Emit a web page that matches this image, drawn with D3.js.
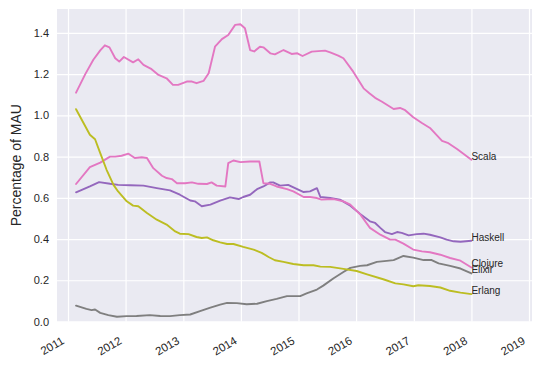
<!DOCTYPE html>
<html><head><meta charset="utf-8">
<script src="https://cdn.jsdelivr.net/npm/d3@7"></script>
<style>body{margin:0;background:#fff;} svg{display:block;}</style>
</head><body>
<script>
// ---- data (decimal years, percentage of MAU) ----
const scalaYears = [2011.14,2011.30,2011.44,2011.56,2011.64,2011.72,2011.82,2011.89,2011.97,2012.13,2012.22,2012.31,2012.45,2012.57,2012.71,2012.82,2012.91,2013.06,2013.15,2013.23,2013.35,2013.44,2013.55,2013.67,2013.78,2013.90,2013.99,2014.07,2014.16,2014.23,2014.33,2014.39,2014.51,2014.59,2014.74,2014.88,2014.98,2015.07,2015.23,2015.46,2015.55,2015.69,2015.78,2015.95,2016.13,2016.23,2016.33,2016.45,2016.65,2016.76,2016.85,2016.99,2017.14,2017.28,2017.49,2017.60,2017.75,2018.00];
const scalaValues = [1.11,1.20,1.27,1.315,1.34,1.33,1.277,1.261,1.283,1.257,1.272,1.245,1.224,1.196,1.18,1.148,1.148,1.164,1.164,1.156,1.167,1.204,1.333,1.37,1.39,1.439,1.442,1.423,1.317,1.31,1.333,1.33,1.301,1.296,1.317,1.298,1.301,1.288,1.309,1.314,1.306,1.29,1.277,1.212,1.131,1.107,1.085,1.066,1.031,1.036,1.025,0.991,0.963,0.939,0.876,0.865,0.837,0.785];

const clojureYears = [2011.14,2011.38,2011.56,2011.73,2011.82,2011.93,2012.05,2012.16,2012.28,2012.37,2012.48,2012.63,2012.71,2012.80,2012.89,2013.03,2013.15,2013.26,2013.41,2013.49,2013.58,2013.73,2013.78,2013.87,2013.99,2014.16,2014.32,2014.39,2014.51,2014.62,2014.80,2014.91,2015.09,2015.20,2015.32,2015.40,2015.61,2015.78,2015.90,2016.07,2016.24,2016.42,2016.59,2016.68,2016.82,2016.99,2017.14,2017.28,2017.46,2017.63,2017.81,2018.00];
const clojureValues = [0.667,0.749,0.771,0.80,0.80,0.804,0.814,0.793,0.797,0.793,0.744,0.707,0.696,0.691,0.671,0.671,0.675,0.668,0.667,0.675,0.659,0.655,0.768,0.781,0.773,0.776,0.776,0.671,0.668,0.655,0.642,0.631,0.604,0.604,0.599,0.591,0.594,0.583,0.567,0.52,0.454,0.421,0.397,0.397,0.378,0.349,0.34,0.336,0.324,0.308,0.295,0.262];

const haskellYears = [2011.14,2011.38,2011.54,2011.73,2011.87,2012.08,2012.31,2012.54,2012.77,2012.94,2013.12,2013.20,2013.32,2013.47,2013.64,2013.81,2013.96,2014.04,2014.16,2014.28,2014.39,2014.51,2014.56,2014.68,2014.82,2014.94,2015.09,2015.20,2015.32,2015.38,2015.55,2015.72,2015.90,2016.07,2016.24,2016.33,2016.42,2016.50,2016.62,2016.71,2016.79,2016.91,2017.05,2017.17,2017.28,2017.46,2017.57,2017.69,2017.81,2018.00];
const haskellValues = [0.627,0.655,0.676,0.668,0.663,0.661,0.659,0.647,0.636,0.615,0.587,0.583,0.559,0.567,0.586,0.602,0.594,0.604,0.615,0.642,0.655,0.675,0.675,0.659,0.663,0.647,0.628,0.631,0.647,0.604,0.599,0.591,0.562,0.522,0.486,0.478,0.454,0.434,0.424,0.434,0.43,0.418,0.424,0.426,0.421,0.408,0.397,0.389,0.387,0.392];

const erlangYears = [2011.14,2011.38,2011.47,2011.56,2011.67,2011.79,2011.87,2012.02,2012.13,2012.22,2012.37,2012.54,2012.71,2012.86,2012.94,2013.09,2013.23,2013.32,2013.41,2013.52,2013.64,2013.76,2013.87,2014.04,2014.22,2014.36,2014.48,2014.59,2014.74,2014.91,2015.09,2015.26,2015.38,2015.55,2015.78,2016.01,2016.19,2016.47,2016.68,2016.82,2016.99,2017.08,2017.28,2017.46,2017.63,2017.81,2018.00];
const erlangValues = [1.03,0.906,0.884,0.817,0.736,0.663,0.631,0.583,0.562,0.559,0.526,0.494,0.47,0.437,0.426,0.424,0.41,0.405,0.408,0.394,0.384,0.376,0.376,0.362,0.349,0.333,0.313,0.297,0.289,0.279,0.273,0.273,0.266,0.265,0.255,0.245,0.229,0.205,0.185,0.18,0.171,0.176,0.172,0.165,0.149,0.14,0.133];

const elixirYears = [2011.14,2011.32,2011.41,2011.47,2011.56,2011.70,2011.85,2012.02,2012.19,2012.42,2012.60,2012.77,2012.94,2013.12,2013.29,2013.47,2013.64,2013.76,2013.93,2014.10,2014.28,2014.45,2014.62,2014.80,2015.03,2015.14,2015.32,2015.43,2015.61,2015.78,2015.90,2016.07,2016.19,2016.36,2016.53,2016.65,2016.82,2016.99,2017.17,2017.31,2017.43,2017.63,2017.81,2018.00];
const elixirValues = [0.077,0.061,0.055,0.058,0.042,0.031,0.023,0.026,0.027,0.031,0.027,0.026,0.031,0.034,0.05,0.067,0.082,0.09,0.089,0.084,0.086,0.099,0.11,0.123,0.123,0.136,0.155,0.174,0.21,0.24,0.26,0.27,0.273,0.289,0.294,0.298,0.318,0.31,0.298,0.298,0.282,0.27,0.257,0.233];

const seriesNames = ["Haskell","Clojure","Elixir","Erlang","Scala"];
const seriesColors = ["#9467bd","#e377c2","#7f7f7f","#bcbd22","#e377c2"];
const yTickValues = [0.0,0.2,0.4,0.6,0.8,1.0,1.2,1.4];
const xTickYears = [2011,2012,2013,2014,2015,2016,2017,2018,2019];
const yLabel = "Percentage of MAU";

// ---- layout ----
const W = 541, H = 366;
const plot = {left: 57, right: 532, top: 9, bottom: 321.5};

function yearToDate(y){
  const yr = Math.floor(y), f = y - yr;
  const a = Date.UTC(yr,0,1), b = Date.UTC(yr+1,0,1);
  return new Date(a + f*(b-a));
}

const svg = d3.select("body").append("svg").attr("width",W).attr("height",H)
  .style("font-family","Arial, 'Liberation Sans', sans-serif");

const x = d3.scaleUtc().domain([yearToDate(2010.809), yearToDate(2019.052)]).range([plot.left, plot.right]);
const y = d3.scaleLinear().domain([0, 1.516]).range([plot.bottom, plot.top]);

svg.append("rect").attr("x",plot.left).attr("y",plot.top)
  .attr("width",plot.right-plot.left).attr("height",plot.bottom-plot.top).attr("fill","#EAEAF2");

// grid via axes
const xAxis = d3.axisBottom(x).tickValues(xTickYears.map(v=>yearToDate(v)))
  .tickSize(-(plot.bottom-plot.top)).tickFormat("");
const gx = svg.append("g").attr("transform",`translate(0,${plot.bottom})`).call(xAxis);
gx.select(".domain").remove();
gx.selectAll(".tick line").attr("stroke","#fff").attr("stroke-width",1.2);

const yAxis = d3.axisLeft(y).tickValues(yTickValues).tickSize(-(plot.right-plot.left)).tickFormat(d3.format(".1f")).tickPadding(8);
const gy = svg.append("g").attr("transform",`translate(${plot.left},0)`).call(yAxis);
gy.select(".domain").remove();
gy.selectAll(".tick line").attr("stroke","#fff").attr("stroke-width",1.2);
gy.selectAll(".tick text").attr("fill","#262626").style("font-size","11px");

// x tick labels, rotated
svg.append("g").selectAll("text").data(xTickYears).join("text")
  .attr("transform", d => `translate(${x(yearToDate(d))-3},343) rotate(-30)`)
  .attr("text-anchor","end").attr("fill","#262626").style("font-size","11.5px")
  .text(d => d);

// y label
svg.append("text").attr("transform",`translate(21,${(plot.top+plot.bottom)/2}) rotate(-90)`)
  .attr("text-anchor","middle").attr("fill","#262626").style("font-size","14px").text(yLabel);

// lines
const allYears = [haskellYears, clojureYears, elixirYears, erlangYears, scalaYears];
const allValues = [haskellValues, clojureValues, elixirValues, erlangValues, scalaValues];
const line = d3.line().x(d=>x(d.date)).y(d=>y(d.value));

seriesNames.forEach((name,i) => {
  const pts = allYears[i].map((yy,j)=>({date: yearToDate(yy), value: allValues[i][j]}));
  svg.append("path").datum(pts).attr("d",line).attr("fill","none")
    .attr("stroke",seriesColors[i]).attr("stroke-width",1.9)
    .attr("stroke-linejoin","round").attr("stroke-linecap","round");
  const last = pts[pts.length-1];
  svg.append("text").attr("x",x(last.date)).attr("y",y(last.value))
    .attr("fill","#262626").style("font-size","10px").text(name);
});
</script>
</body></html>
